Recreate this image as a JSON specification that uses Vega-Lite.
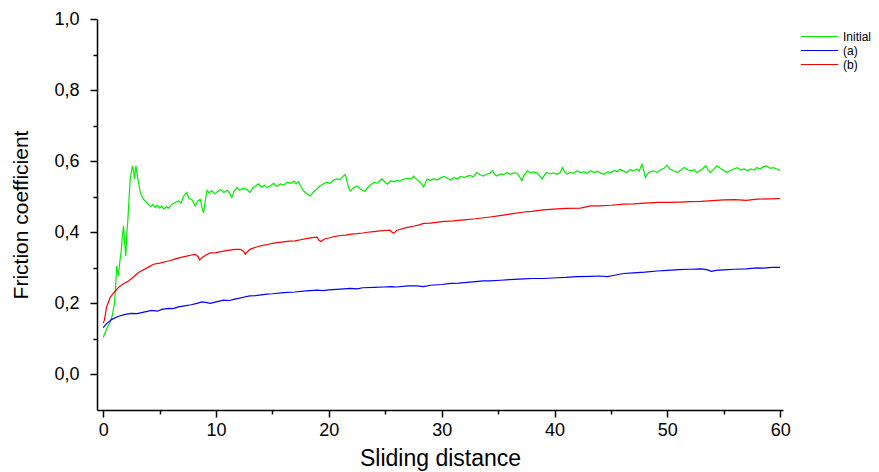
{
  "$schema": "https://vega.github.io/schema/vega-lite/v6.json",
  "width": 686,
  "height": 391,
  "autosize": "none",
  "padding": {"left": 97, "top": 19, "right": 96, "bottom": 62},
  "background": "white",
  "config": {
    "view": {"stroke": null},
    "font": "Liberation Sans",
    "axis": {"grid": false, "domainColor": "black", "tickColor": "black", "labelColor": "black", "titleColor": "black", "labelFont": "Liberation Sans", "titleFont": "Liberation Sans", "titleFontWeight": "normal", "domainWidth": 1.5, "tickWidth": 1.5}
  },
  "datasets": {
    "d": [
      {"s":"Initial","x":0.0,"y":0.104},{"s":"Initial","x":0.2,"y":0.12},{"s":"Initial","x":0.4,"y":0.135},{"s":"Initial","x":0.6,"y":0.146},{"s":"Initial","x":0.8,"y":0.165},{"s":"Initial","x":1.0,"y":0.2},{"s":"Initial","x":1.1,"y":0.25},{"s":"Initial","x":1.2,"y":0.305},{"s":"Initial","x":1.3,"y":0.285},{"s":"Initial","x":1.35,"y":0.277},{"s":"Initial","x":1.45,"y":0.31},{"s":"Initial","x":1.5,"y":0.324},{"s":"Initial","x":1.6,"y":0.35},{"s":"Initial","x":1.7,"y":0.39},{"s":"Initial","x":1.8,"y":0.418},{"s":"Initial","x":1.9,"y":0.37},{"s":"Initial","x":2.0,"y":0.333},{"s":"Initial","x":2.1,"y":0.4},{"s":"Initial","x":2.19,"y":0.437},{"s":"Initial","x":2.3,"y":0.5},{"s":"Initial","x":2.39,"y":0.549},{"s":"Initial","x":2.5,"y":0.57},{"s":"Initial","x":2.6,"y":0.587},{"s":"Initial","x":2.7,"y":0.57},{"s":"Initial","x":2.77,"y":0.55},{"s":"Initial","x":2.85,"y":0.575},{"s":"Initial","x":2.9,"y":0.587},{"s":"Initial","x":3.0,"y":0.565},{"s":"Initial","x":3.13,"y":0.54},{"s":"Initial","x":3.3,"y":0.51},{"s":"Initial","x":3.57,"y":0.493},{"s":"Initial","x":3.8,"y":0.485},{"s":"Initial","x":4.0,"y":0.479},{"s":"Initial","x":4.2,"y":0.472},{"s":"Initial","x":4.4,"y":0.478},{"s":"Initial","x":4.6,"y":0.47},{"s":"Initial","x":4.8,"y":0.476},{"s":"Initial","x":5.0,"y":0.468},{"s":"Initial","x":5.2,"y":0.474},{"s":"Initial","x":5.35,"y":0.465},{"s":"Initial","x":5.6,"y":0.472},{"s":"Initial","x":5.8,"y":0.468},{"s":"Initial","x":6.1,"y":0.479},{"s":"Initial","x":6.4,"y":0.484},{"s":"Initial","x":6.68,"y":0.488},{"s":"Initial","x":6.9,"y":0.482},{"s":"Initial","x":7.1,"y":0.5},{"s":"Initial","x":7.4,"y":0.512},{"s":"Initial","x":7.6,"y":0.495},{"s":"Initial","x":7.9,"y":0.49},{"s":"Initial","x":8.15,"y":0.474},{"s":"Initial","x":8.4,"y":0.488},{"s":"Initial","x":8.6,"y":0.493},{"s":"Initial","x":8.75,"y":0.47},{"s":"Initial","x":8.9,"y":0.455},{"s":"Initial","x":9.05,"y":0.49},{"s":"Initial","x":9.2,"y":0.518},{"s":"Initial","x":9.4,"y":0.51},{"s":"Initial","x":9.6,"y":0.517},{"s":"Initial","x":9.9,"y":0.508},{"s":"Initial","x":10.1,"y":0.514},{"s":"Initial","x":10.4,"y":0.52},{"s":"Initial","x":10.7,"y":0.512},{"s":"Initial","x":11.0,"y":0.518},{"s":"Initial","x":11.2,"y":0.51},{"s":"Initial","x":11.4,"y":0.498},{"s":"Initial","x":11.6,"y":0.515},{"s":"Initial","x":11.85,"y":0.526},{"s":"Initial","x":12.1,"y":0.518},{"s":"Initial","x":12.4,"y":0.524},{"s":"Initial","x":12.74,"y":0.52},{"s":"Initial","x":13.0,"y":0.512},{"s":"Initial","x":13.3,"y":0.527},{"s":"Initial","x":13.5,"y":0.53},{"s":"Initial","x":13.77,"y":0.536},{"s":"Initial","x":14.0,"y":0.527},{"s":"Initial","x":14.3,"y":0.532},{"s":"Initial","x":14.5,"y":0.525},{"s":"Initial","x":14.8,"y":0.53},{"s":"Initial","x":15.1,"y":0.538},{"s":"Initial","x":15.4,"y":0.529},{"s":"Initial","x":15.7,"y":0.536},{"s":"Initial","x":16.0,"y":0.533},{"s":"Initial","x":16.3,"y":0.541},{"s":"Initial","x":16.6,"y":0.538},{"s":"Initial","x":16.9,"y":0.544},{"s":"Initial","x":17.1,"y":0.536},{"s":"Initial","x":17.3,"y":0.542},{"s":"Initial","x":17.5,"y":0.53},{"s":"Initial","x":17.76,"y":0.516},{"s":"Initial","x":18.0,"y":0.51},{"s":"Initial","x":18.35,"y":0.502},{"s":"Initial","x":18.6,"y":0.512},{"s":"Initial","x":18.95,"y":0.522},{"s":"Initial","x":19.2,"y":0.53},{"s":"Initial","x":19.5,"y":0.536},{"s":"Initial","x":19.8,"y":0.541},{"s":"Initial","x":20.1,"y":0.538},{"s":"Initial","x":20.4,"y":0.546},{"s":"Initial","x":20.7,"y":0.55},{"s":"Initial","x":21.0,"y":0.548},{"s":"Initial","x":21.2,"y":0.556},{"s":"Initial","x":21.45,"y":0.563},{"s":"Initial","x":21.6,"y":0.545},{"s":"Initial","x":21.75,"y":0.525},{"s":"Initial","x":21.9,"y":0.516},{"s":"Initial","x":22.2,"y":0.525},{"s":"Initial","x":22.5,"y":0.53},{"s":"Initial","x":22.8,"y":0.522},{"s":"Initial","x":23.0,"y":0.518},{"s":"Initial","x":23.2,"y":0.515},{"s":"Initial","x":23.5,"y":0.528},{"s":"Initial","x":23.8,"y":0.536},{"s":"Initial","x":24.0,"y":0.54},{"s":"Initial","x":24.3,"y":0.538},{"s":"Initial","x":24.7,"y":0.55},{"s":"Initial","x":25.0,"y":0.54},{"s":"Initial","x":25.2,"y":0.535},{"s":"Initial","x":25.5,"y":0.545},{"s":"Initial","x":25.8,"y":0.542},{"s":"Initial","x":26.0,"y":0.546},{"s":"Initial","x":26.3,"y":0.544},{"s":"Initial","x":26.6,"y":0.549},{"s":"Initial","x":27.0,"y":0.552},{"s":"Initial","x":27.3,"y":0.55},{"s":"Initial","x":27.5,"y":0.558},{"s":"Initial","x":27.8,"y":0.548},{"s":"Initial","x":28.1,"y":0.54},{"s":"Initial","x":28.4,"y":0.527},{"s":"Initial","x":28.7,"y":0.55},{"s":"Initial","x":29.0,"y":0.546},{"s":"Initial","x":29.3,"y":0.551},{"s":"Initial","x":29.6,"y":0.547},{"s":"Initial","x":29.9,"y":0.553},{"s":"Initial","x":30.2,"y":0.557},{"s":"Initial","x":30.5,"y":0.552},{"s":"Initial","x":30.8,"y":0.547},{"s":"Initial","x":31.1,"y":0.554},{"s":"Initial","x":31.4,"y":0.55},{"s":"Initial","x":31.65,"y":0.557},{"s":"Initial","x":32.0,"y":0.554},{"s":"Initial","x":32.3,"y":0.558},{"s":"Initial","x":32.5,"y":0.56},{"s":"Initial","x":32.8,"y":0.556},{"s":"Initial","x":33.1,"y":0.568},{"s":"Initial","x":33.4,"y":0.562},{"s":"Initial","x":33.7,"y":0.558},{"s":"Initial","x":34.0,"y":0.564},{"s":"Initial","x":34.3,"y":0.566},{"s":"Initial","x":34.5,"y":0.573},{"s":"Initial","x":34.7,"y":0.562},{"s":"Initial","x":34.9,"y":0.558},{"s":"Initial","x":35.2,"y":0.564},{"s":"Initial","x":35.5,"y":0.562},{"s":"Initial","x":35.8,"y":0.568},{"s":"Initial","x":36.1,"y":0.563},{"s":"Initial","x":36.4,"y":0.567},{"s":"Initial","x":36.7,"y":0.566},{"s":"Initial","x":36.9,"y":0.556},{"s":"Initial","x":37.1,"y":0.545},{"s":"Initial","x":37.3,"y":0.56},{"s":"Initial","x":37.6,"y":0.573},{"s":"Initial","x":37.9,"y":0.566},{"s":"Initial","x":38.1,"y":0.57},{"s":"Initial","x":38.4,"y":0.568},{"s":"Initial","x":38.7,"y":0.558},{"s":"Initial","x":38.9,"y":0.55},{"s":"Initial","x":39.1,"y":0.56},{"s":"Initial","x":39.3,"y":0.568},{"s":"Initial","x":39.6,"y":0.564},{"s":"Initial","x":39.9,"y":0.567},{"s":"Initial","x":40.2,"y":0.563},{"s":"Initial","x":40.5,"y":0.568},{"s":"Initial","x":40.7,"y":0.582},{"s":"Initial","x":40.9,"y":0.57},{"s":"Initial","x":41.1,"y":0.564},{"s":"Initial","x":41.4,"y":0.568},{"s":"Initial","x":41.7,"y":0.566},{"s":"Initial","x":42.0,"y":0.573},{"s":"Initial","x":42.3,"y":0.568},{"s":"Initial","x":42.6,"y":0.57},{"s":"Initial","x":42.9,"y":0.566},{"s":"Initial","x":43.2,"y":0.573},{"s":"Initial","x":43.5,"y":0.568},{"s":"Initial","x":43.8,"y":0.572},{"s":"Initial","x":44.1,"y":0.566},{"s":"Initial","x":44.4,"y":0.563},{"s":"Initial","x":44.7,"y":0.57},{"s":"Initial","x":45.0,"y":0.568},{"s":"Initial","x":45.3,"y":0.574},{"s":"Initial","x":45.6,"y":0.57},{"s":"Initial","x":45.8,"y":0.577},{"s":"Initial","x":46.1,"y":0.572},{"s":"Initial","x":46.4,"y":0.568},{"s":"Initial","x":46.7,"y":0.576},{"s":"Initial","x":47.0,"y":0.573},{"s":"Initial","x":47.3,"y":0.578},{"s":"Initial","x":47.5,"y":0.572},{"s":"Initial","x":47.75,"y":0.592},{"s":"Initial","x":47.9,"y":0.575},{"s":"Initial","x":48.05,"y":0.554},{"s":"Initial","x":48.3,"y":0.566},{"s":"Initial","x":48.5,"y":0.57},{"s":"Initial","x":48.8,"y":0.573},{"s":"Initial","x":49.1,"y":0.568},{"s":"Initial","x":49.4,"y":0.576},{"s":"Initial","x":49.7,"y":0.58},{"s":"Initial","x":49.97,"y":0.589},{"s":"Initial","x":50.2,"y":0.578},{"s":"Initial","x":50.5,"y":0.574},{"s":"Initial","x":50.9,"y":0.568},{"s":"Initial","x":51.2,"y":0.575},{"s":"Initial","x":51.5,"y":0.582},{"s":"Initial","x":51.8,"y":0.576},{"s":"Initial","x":52.1,"y":0.573},{"s":"Initial","x":52.4,"y":0.576},{"s":"Initial","x":52.6,"y":0.568},{"s":"Initial","x":52.9,"y":0.574},{"s":"Initial","x":53.1,"y":0.578},{"s":"Initial","x":53.4,"y":0.587},{"s":"Initial","x":53.6,"y":0.576},{"s":"Initial","x":53.8,"y":0.568},{"s":"Initial","x":54.1,"y":0.577},{"s":"Initial","x":54.4,"y":0.587},{"s":"Initial","x":54.7,"y":0.58},{"s":"Initial","x":55.0,"y":0.574},{"s":"Initial","x":55.3,"y":0.568},{"s":"Initial","x":55.6,"y":0.574},{"s":"Initial","x":55.9,"y":0.578},{"s":"Initial","x":56.2,"y":0.582},{"s":"Initial","x":56.5,"y":0.575},{"s":"Initial","x":56.8,"y":0.578},{"s":"Initial","x":57.1,"y":0.573},{"s":"Initial","x":57.4,"y":0.578},{"s":"Initial","x":57.7,"y":0.575},{"s":"Initial","x":57.9,"y":0.582},{"s":"Initial","x":58.2,"y":0.578},{"s":"Initial","x":58.5,"y":0.584},{"s":"Initial","x":58.8,"y":0.587},{"s":"Initial","x":59.1,"y":0.58},{"s":"Initial","x":59.4,"y":0.582},{"s":"Initial","x":59.7,"y":0.578},{"s":"Initial","x":60.0,"y":0.573},
      {"s":"(a)","x":0.0,"y":0.132},{"s":"(a)","x":0.3,"y":0.143},{"s":"(a)","x":0.77,"y":0.155},{"s":"(a)","x":1.3,"y":0.163},{"s":"(a)","x":1.95,"y":0.169},{"s":"(a)","x":2.5,"y":0.172},{"s":"(a)","x":3.0,"y":0.171},{"s":"(a)","x":3.7,"y":0.176},{"s":"(a)","x":4.3,"y":0.18},{"s":"(a)","x":4.8,"y":0.178},{"s":"(a)","x":5.2,"y":0.183},{"s":"(a)","x":5.8,"y":0.186},{"s":"(a)","x":6.2,"y":0.185},{"s":"(a)","x":6.68,"y":0.19},{"s":"(a)","x":7.2,"y":0.193},{"s":"(a)","x":7.8,"y":0.196},{"s":"(a)","x":8.3,"y":0.2},{"s":"(a)","x":8.75,"y":0.204},{"s":"(a)","x":9.2,"y":0.202},{"s":"(a)","x":9.5,"y":0.2},{"s":"(a)","x":10.0,"y":0.204},{"s":"(a)","x":10.67,"y":0.209},{"s":"(a)","x":11.2,"y":0.208},{"s":"(a)","x":11.55,"y":0.211},{"s":"(a)","x":12.0,"y":0.214},{"s":"(a)","x":12.5,"y":0.218},{"s":"(a)","x":13.0,"y":0.221},{"s":"(a)","x":13.5,"y":0.222},{"s":"(a)","x":14.0,"y":0.224},{"s":"(a)","x":14.5,"y":0.226},{"s":"(a)","x":15.0,"y":0.227},{"s":"(a)","x":16.0,"y":0.23},{"s":"(a)","x":17.0,"y":0.232},{"s":"(a)","x":18.0,"y":0.235},{"s":"(a)","x":18.95,"y":0.237},{"s":"(a)","x":19.5,"y":0.236},{"s":"(a)","x":20.0,"y":0.238},{"s":"(a)","x":21.0,"y":0.24},{"s":"(a)","x":21.9,"y":0.242},{"s":"(a)","x":22.5,"y":0.241},{"s":"(a)","x":23.0,"y":0.244},{"s":"(a)","x":24.0,"y":0.245},{"s":"(a)","x":24.85,"y":0.246},{"s":"(a)","x":25.5,"y":0.247},{"s":"(a)","x":26.0,"y":0.246},{"s":"(a)","x":27.0,"y":0.249},{"s":"(a)","x":27.8,"y":0.249},{"s":"(a)","x":28.4,"y":0.247},{"s":"(a)","x":29.0,"y":0.251},{"s":"(a)","x":30.0,"y":0.253},{"s":"(a)","x":30.8,"y":0.256},{"s":"(a)","x":31.5,"y":0.257},{"s":"(a)","x":32.5,"y":0.26},{"s":"(a)","x":33.7,"y":0.263},{"s":"(a)","x":34.3,"y":0.263},{"s":"(a)","x":35.2,"y":0.265},{"s":"(a)","x":36.0,"y":0.267},{"s":"(a)","x":37.3,"y":0.269},{"s":"(a)","x":38.0,"y":0.27},{"s":"(a)","x":39.0,"y":0.27},{"s":"(a)","x":40.2,"y":0.272},{"s":"(a)","x":41.0,"y":0.273},{"s":"(a)","x":42.0,"y":0.275},{"s":"(a)","x":43.2,"y":0.276},{"s":"(a)","x":44.0,"y":0.277},{"s":"(a)","x":44.7,"y":0.275},{"s":"(a)","x":45.3,"y":0.279},{"s":"(a)","x":46.1,"y":0.284},{"s":"(a)","x":47.0,"y":0.286},{"s":"(a)","x":48.0,"y":0.288},{"s":"(a)","x":49.1,"y":0.291},{"s":"(a)","x":50.0,"y":0.293},{"s":"(a)","x":51.0,"y":0.295},{"s":"(a)","x":52.0,"y":0.296},{"s":"(a)","x":53.0,"y":0.297},{"s":"(a)","x":53.5,"y":0.295},{"s":"(a)","x":53.9,"y":0.29},{"s":"(a)","x":54.3,"y":0.293},{"s":"(a)","x":55.0,"y":0.294},{"s":"(a)","x":56.0,"y":0.296},{"s":"(a)","x":57.0,"y":0.297},{"s":"(a)","x":57.95,"y":0.3},{"s":"(a)","x":58.5,"y":0.299},{"s":"(a)","x":59.3,"y":0.301},{"s":"(a)","x":60.0,"y":0.301},
      {"s":"(b)","x":0.0,"y":0.145},{"s":"(b)","x":0.1,"y":0.152},{"s":"(b)","x":0.3,"y":0.19},{"s":"(b)","x":0.62,"y":0.217},{"s":"(b)","x":1.0,"y":0.232},{"s":"(b)","x":1.36,"y":0.245},{"s":"(b)","x":1.8,"y":0.255},{"s":"(b)","x":2.25,"y":0.263},{"s":"(b)","x":2.7,"y":0.275},{"s":"(b)","x":3.13,"y":0.287},{"s":"(b)","x":3.5,"y":0.293},{"s":"(b)","x":4.0,"y":0.302},{"s":"(b)","x":4.46,"y":0.31},{"s":"(b)","x":5.0,"y":0.313},{"s":"(b)","x":5.5,"y":0.317},{"s":"(b)","x":5.9,"y":0.32},{"s":"(b)","x":6.4,"y":0.325},{"s":"(b)","x":7.0,"y":0.33},{"s":"(b)","x":7.4,"y":0.333},{"s":"(b)","x":7.8,"y":0.336},{"s":"(b)","x":8.15,"y":0.338},{"s":"(b)","x":8.4,"y":0.332},{"s":"(b)","x":8.55,"y":0.322},{"s":"(b)","x":8.8,"y":0.33},{"s":"(b)","x":9.1,"y":0.336},{"s":"(b)","x":9.5,"y":0.342},{"s":"(b)","x":10.0,"y":0.343},{"s":"(b)","x":10.67,"y":0.347},{"s":"(b)","x":11.2,"y":0.35},{"s":"(b)","x":11.7,"y":0.352},{"s":"(b)","x":12.15,"y":0.352},{"s":"(b)","x":12.45,"y":0.346},{"s":"(b)","x":12.6,"y":0.338},{"s":"(b)","x":12.8,"y":0.346},{"s":"(b)","x":13.0,"y":0.352},{"s":"(b)","x":13.5,"y":0.358},{"s":"(b)","x":14.0,"y":0.362},{"s":"(b)","x":14.5,"y":0.365},{"s":"(b)","x":15.0,"y":0.369},{"s":"(b)","x":15.4,"y":0.371},{"s":"(b)","x":16.0,"y":0.373},{"s":"(b)","x":16.5,"y":0.375},{"s":"(b)","x":17.0,"y":0.376},{"s":"(b)","x":17.5,"y":0.379},{"s":"(b)","x":18.0,"y":0.382},{"s":"(b)","x":18.5,"y":0.385},{"s":"(b)","x":18.95,"y":0.386},{"s":"(b)","x":19.1,"y":0.378},{"s":"(b)","x":19.3,"y":0.374},{"s":"(b)","x":19.6,"y":0.381},{"s":"(b)","x":20.0,"y":0.384},{"s":"(b)","x":20.5,"y":0.388},{"s":"(b)","x":21.0,"y":0.391},{"s":"(b)","x":21.5,"y":0.392},{"s":"(b)","x":22.0,"y":0.395},{"s":"(b)","x":22.5,"y":0.396},{"s":"(b)","x":23.0,"y":0.398},{"s":"(b)","x":23.4,"y":0.4},{"s":"(b)","x":24.0,"y":0.402},{"s":"(b)","x":24.5,"y":0.404},{"s":"(b)","x":25.0,"y":0.405},{"s":"(b)","x":25.4,"y":0.406},{"s":"(b)","x":25.6,"y":0.4},{"s":"(b)","x":25.75,"y":0.397},{"s":"(b)","x":26.0,"y":0.405},{"s":"(b)","x":26.5,"y":0.41},{"s":"(b)","x":26.9,"y":0.413},{"s":"(b)","x":27.5,"y":0.417},{"s":"(b)","x":28.0,"y":0.421},{"s":"(b)","x":28.4,"y":0.425},{"s":"(b)","x":29.0,"y":0.426},{"s":"(b)","x":29.5,"y":0.428},{"s":"(b)","x":30.0,"y":0.43},{"s":"(b)","x":31.0,"y":0.432},{"s":"(b)","x":32.0,"y":0.435},{"s":"(b)","x":33.0,"y":0.438},{"s":"(b)","x":34.3,"y":0.443},{"s":"(b)","x":35.0,"y":0.446},{"s":"(b)","x":36.0,"y":0.451},{"s":"(b)","x":37.3,"y":0.457},{"s":"(b)","x":38.0,"y":0.459},{"s":"(b)","x":39.0,"y":0.463},{"s":"(b)","x":40.2,"y":0.466},{"s":"(b)","x":41.0,"y":0.467},{"s":"(b)","x":42.3,"y":0.468},{"s":"(b)","x":43.2,"y":0.474},{"s":"(b)","x":44.0,"y":0.474},{"s":"(b)","x":45.0,"y":0.476},{"s":"(b)","x":46.1,"y":0.479},{"s":"(b)","x":47.0,"y":0.48},{"s":"(b)","x":48.0,"y":0.482},{"s":"(b)","x":49.1,"y":0.484},{"s":"(b)","x":50.0,"y":0.484},{"s":"(b)","x":51.2,"y":0.485},{"s":"(b)","x":52.0,"y":0.486},{"s":"(b)","x":53.0,"y":0.487},{"s":"(b)","x":54.0,"y":0.489},{"s":"(b)","x":55.0,"y":0.491},{"s":"(b)","x":56.0,"y":0.492},{"s":"(b)","x":57.0,"y":0.49},{"s":"(b)","x":57.95,"y":0.493},{"s":"(b)","x":59.0,"y":0.494},{"s":"(b)","x":60.0,"y":0.495}
    ]
  },
  "data": {"name": "d"},
  "layer": [
    {
      "mark": {"type": "line", "strokeWidth": 1.2, "interpolate": "linear"},
      "encoding": {
        "x": {"field": "x", "type": "quantitative", "scale": {"domain": [-0.55, 60.25], "nice": false, "zero": false},
          "axis": {"values": [0,10,20,30,40,50,60], "title": "Sliding distance", "titleFontSize": 23, "titlePadding": 8, "labelFontSize": 18, "tickSize": 7, "labelPadding": 4, "orient": "bottom"}},
        "y": {"field": "y", "type": "quantitative", "scale": {"domain": [-0.1, 1.0], "nice": false, "zero": false},
          "axis": {"values": [0,0.2,0.4,0.6,0.8,1.0], "labelExpr": "replace(format(datum.value, '.1f'), '.', ',')", "title": "Friction coefficient", "titleFontSize": 21, "titlePadding": 22, "labelFontSize": 18, "tickSize": 7, "labelPadding": 11, "orient": "left"}},
        "color": {"field": "s", "type": "nominal", "sort": ["Initial", "(a)", "(b)"],
          "scale": {"domain": ["Initial", "(a)", "(b)"], "range": ["#00ee00", "#0000ff", "#ff0000"]},
          "legend": {"title": null, "orient": "none", "legendX": 703, "legendY": 11, "symbolType": "stroke", "symbolSize": 1400, "symbolStrokeWidth": 1, "labelFontSize": 12, "labelFont": "Liberation Sans", "rowPadding": 1, "clipHeight": 13, "labelOffset": 4}}
      }
    },
    {
      "mark": {"type": "line", "opacity": 0},
      "encoding": {
        "x": {"field": "x", "type": "quantitative", "scale": {"domain": [-0.55, 60.25], "nice": false, "zero": false},
          "axis": {"values": [5,15,25,35,45,55], "labels": false, "domain": false, "title": null, "tickSize": 4, "orient": "bottom"}},
        "y": {"field": "y", "type": "quantitative", "scale": {"domain": [-0.1, 1.0], "nice": false, "zero": false},
          "axis": {"values": [0.1,0.3,0.5,0.7,0.9], "labels": false, "domain": false, "title": null, "tickSize": 4, "orient": "left"}},
        "detail": {"field": "s", "type": "nominal"}
      }
    }
  ],
  "resolve": {"axis": {"x": "independent", "y": "independent"}}
}
